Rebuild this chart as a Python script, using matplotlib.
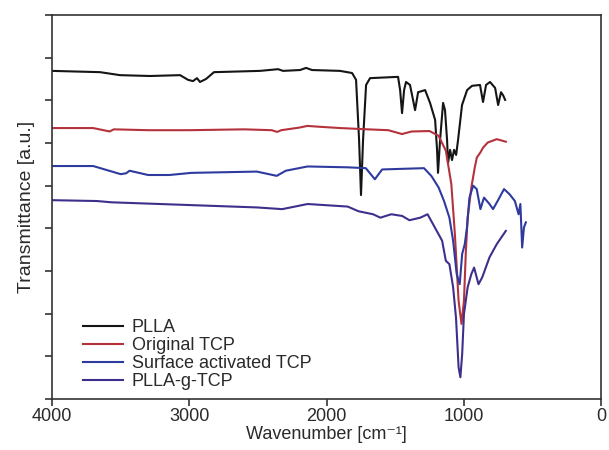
import numpy as np
import matplotlib
matplotlib.use('Agg')
import matplotlib.pyplot as plt

plt.rcParams['font.family'] = ['Liberation Sans', 'DejaVu Sans']
plt.rcParams['text.color'] = '#2a2a2a'
plt.rcParams['axes.labelcolor'] = '#2a2a2a'
plt.rcParams['xtick.labelcolor'] = '#2a2a2a'

# FTIR spectra (wavenumber in cm-1, transmittance in a.u.)
wn_plla = [4000, 3650, 3505, 3286, 3067, 3009, 2973, 2944, 2922, 2878, 2820, 2485, 2353,
           2317, 2193, 2149, 2106, 1902, 1814, 1785, 1763, 1749, 1734, 1712, 1683, 1479,
           1464, 1450, 1435, 1421, 1392, 1370, 1355, 1333, 1282, 1246, 1209, 1195, 1188,
           1173, 1151, 1137, 1122, 1115, 1100, 1086, 1071, 1056, 1042, 1013, 976, 940,
           882, 860, 838, 809, 772, 750, 729, 714, 699]
t_plla = [7.69, 7.66, 7.59, 7.57, 7.59, 7.48, 7.45, 7.52, 7.43, 7.50, 7.66, 7.69, 7.73,
          7.69, 7.71, 7.76, 7.71, 7.69, 7.64, 7.48, 6.07, 4.78, 6.07, 7.36, 7.52, 7.55,
          7.24, 6.70, 7.24, 7.43, 7.36, 7.01, 6.77, 7.19, 7.24, 6.94, 6.54, 5.84, 5.30,
          6.07, 6.94, 6.77, 6.07, 5.53, 5.84, 5.60, 5.84, 5.72, 6.07, 6.89, 7.24, 7.34,
          7.36, 6.96, 7.36, 7.43, 7.29, 6.89, 7.19, 7.12, 7.01]

wn_tcp = [4000, 3700, 3580, 3550, 3300, 3000, 2600, 2400, 2360, 2330, 2200, 2140, 2050,
          1900, 1700, 1550, 1450, 1380, 1250, 1184, 1131, 1091, 1065, 1038, 1017, 999,
          985, 972, 945, 920, 905, 879, 860, 826, 760, 694]
t_tcp = [6.35, 6.35, 6.27, 6.32, 6.30, 6.30, 6.32, 6.30, 6.26, 6.30, 6.36, 6.40, 6.38,
         6.35, 6.32, 6.30, 6.21, 6.27, 6.28, 6.17, 5.82, 5.04, 3.86, 2.30, 1.76, 2.30,
         3.47, 4.25, 4.96, 5.43, 5.66, 5.78, 5.89, 6.01, 6.09, 6.03]

wn_act = [4000, 3700, 3500, 3460, 3435, 3300, 3145, 2985, 2508, 2363, 2297, 2138, 1846,
          1714, 1648, 1595, 1290, 1237, 1184, 1144, 1105, 1078, 1052, 1030, 1012, 993,
          977, 959, 932, 906, 879, 853, 813, 787, 747, 707, 667, 628, 601, 588, 575,
          562, 548]
t_act = [5.46, 5.46, 5.27, 5.29, 5.35, 5.25, 5.25, 5.30, 5.33, 5.23, 5.35, 5.45, 5.43,
         5.41, 5.15, 5.38, 5.41, 5.23, 4.96, 4.64, 4.25, 3.71, 2.93, 2.69, 3.40, 3.63,
         4.02, 4.72, 5.00, 4.92, 4.45, 4.72, 4.57, 4.45, 4.68, 4.92, 4.80, 4.64, 4.33,
         4.57, 3.55, 4.02, 4.14]

wn_graft = [4000, 3673, 3567, 3038, 2508, 2323, 2138, 1846, 1767, 1661, 1608, 1528, 1449,
            1396, 1317, 1264, 1211, 1158, 1131, 1105, 1078, 1057, 1038, 1025, 1012, 999,
            972, 945, 925, 893, 866, 813, 760, 694]
t_graft = [4.66, 4.64, 4.61, 4.55, 4.49, 4.45, 4.57, 4.51, 4.40, 4.33, 4.25, 4.33, 4.29,
           4.19, 4.25, 4.33, 4.02, 3.71, 3.24, 3.16, 2.62, 1.91, 0.74, 0.51, 1.05, 1.99,
           2.62, 2.93, 3.08, 2.69, 2.85, 3.32, 3.63, 3.94]

labels = ['PLLA', 'Original TCP', 'Surface activated TCP', 'PLLA-g-TCP']
colors = ['#151515', '#b5323c', '#2e3a9e', '#3f2f8c']

fig = plt.figure(figsize=(6.09, 4.5), dpi=100)
ax = fig.add_axes([0.0854, 0.1133, 0.9016, 0.8534])

series = [(wn_plla, t_plla), (wn_tcp, t_tcp), (wn_act, t_act), (wn_graft, t_graft)]
for (x, y), lab, c in zip(series, labels, colors):
    ax.plot(x, y, color=c, lw=1.5, label=lab)

ax.set_xlim(4000, 0)
ax.set_ylim(0, 9)
ax.set_xticks([4000, 3000, 2000, 1000, 0])
ax.set_yticks(np.arange(0, 10))
ax.set_yticklabels([])
ax.tick_params(direction='out', length=5, width=1.2, color='#333333', labelsize=13, pad=1.5)
for s in ax.spines.values():
    s.set_color('#333333')
    s.set_linewidth(1.2)

ax.set_xlabel('Wavenumber [cm\u207b\u00b9]', fontsize=13, labelpad=1)
ax.set_ylabel('Transmittance [a.u.]', fontsize=14, labelpad=6)

ax.legend(loc='lower left', bbox_to_anchor=(0.04, 0.0), frameon=False, fontsize=13,
          handlelength=2.2, labelspacing=0.05, handletextpad=0.5, borderaxespad=0.1)

fig.savefig('out.png', dpi=100)
